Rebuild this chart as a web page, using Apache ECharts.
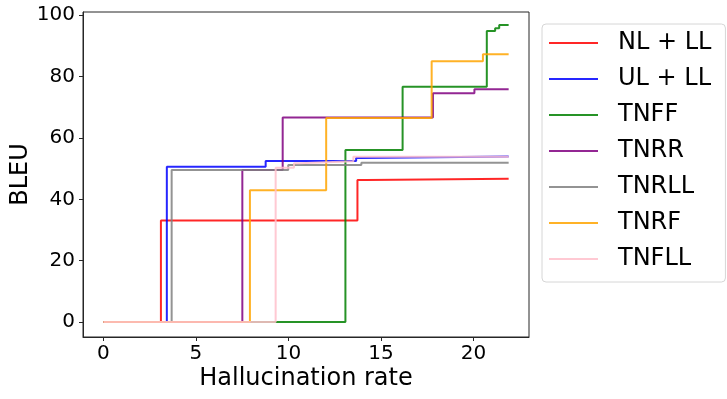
<!DOCTYPE html>
<html>
<head>
<meta charset="utf-8">
<script src="https://cdn.jsdelivr.net/npm/echarts@6/dist/echarts.min.js"></script>
<style>
  html, body { margin: 0; padding: 0; background: #fff; }
  #chart { width: 727px; height: 399px; }
</style>
</head>
<body>
<div id="chart"></div>
<script>
// step points: value holds from x onward
const nlLlX = [0, 3.11, 13.73, 14.25, 21.9];
const nlLlY = [0, 33.1, 46.3, 46.7, 46.7];

const ulLlX = [0, 3.43, 8.77, 13.66, 13.95, 21.9];
const ulLlY = [0, 50.6, 52.5, 53.5, 54.0, 54.0];

const tnffX = [0, 13.08, 16.17, 20.72, 21.17, 21.39, 21.9];
const tnffY = [0, 56.1, 76.7, 94.9, 95.8, 96.8, 96.8];

const tnrrX = [0, 7.51, 9.69, 17.81, 20.05, 21.9];
const tnrrY = [0, 49.6, 66.7, 74.6, 75.9, 75.9];

const tnrllX = [0, 3.69, 9.99, 13.94, 21.9];
const tnrllY = [0, 49.6, 51.2, 51.9, 51.9];

const tnrfX = [0, 7.92, 12.04, 17.74, 20.51, 21.9];
const tnrfY = [0, 43.0, 66.5, 85.0, 87.3, 87.3];

const tnfllX = [0, 9.31, 10.3, 10.6, 13.51, 21.9];
const tnfllY = [0, 50.3, 51.8, 52.4, 53.9, 53.9];

const seriesNames = ['NL + LL', 'UL + LL', 'TNFF', 'TNRR', 'TNRLL', 'TNRF', 'TNFLL'];
const seriesColors = ['#ff0000', '#0000ff', '#008000', '#800080', '#808080', '#ffa500', '#ffc0cb'];
const seriesX = [nlLlX, ulLlX, tnffX, tnrrX, tnrllX, tnrfX, tnfllX];
const seriesY = [nlLlY, ulLlY, tnffY, tnrrY, tnrllY, tnrfY, tnfllY];

const xTicks = [0, 5, 10, 15, 20];
const yTicks = [0, 20, 40, 60, 80, 100];

const font = 'DejaVu Sans';

const chart = echarts.init(document.getElementById('chart'), null, { renderer: 'canvas' });

const series = seriesNames.map((name, i) => ({
  name: name,
  type: 'line',
  step: 'end',
  showSymbol: false,
  symbol: 'none',
  data: seriesX[i].map((x, j) => [x, seriesY[i][j]]),
  lineStyle: { color: seriesColors[i], width: 2, opacity: 0.85 },
  itemStyle: { color: seriesColors[i], opacity: 0.85 }
}));

const option = {
  animation: false,
  backgroundColor: '#fff',
  textStyle: { fontFamily: font, color: '#000' },
  grid: {
    left: 83, right: 198, top: 12, bottom: 62,
    outerBoundsMode: 'none',
    containLabel: false,
    show: true, borderColor: '#262626', borderWidth: 1, backgroundColor: 'transparent'
  },
  legend: {
    orient: 'vertical',
    left: 542, top: 24,
    padding: [7, 14, 11, 7],
    borderColor: '#d6d6d6', borderWidth: 1, borderRadius: 4,
    backgroundColor: '#fff',
    icon: 'rect',
    itemWidth: 49, itemHeight: 2,
    itemGap: 12,
    data: seriesNames,
    textStyle: { fontFamily: font, fontSize: 24, lineHeight: 24, color: '#000', padding: [0, 0, 0, 15] }
  },
  xAxis: {
    type: 'value',
    min: -1.1, max: 23.0,
    name: 'Hallucination rate',
    nameLocation: 'middle',
    nameGap: 30,
    nameMoveOverlap: false,
    nameTextStyle: { fontFamily: font, fontSize: 24, color: '#000' },
    splitLine: { show: false },
    axisLine: { show: true, onZero: false, lineStyle: { color: '#262626', width: 1 } },
    axisTick: { show: true, length: 4, customValues: xTicks, lineStyle: { color: '#262626' } },
    axisLabel: { customValues: xTicks, fontFamily: font, fontSize: 20, color: '#000', margin: 7 }
  },
  yAxis: {
    type: 'value',
    min: -4.88, max: 101.07,
    name: 'BLEU',
    nameLocation: 'middle',
    nameGap: 50,
    nameMoveOverlap: false,
    nameTextStyle: { fontFamily: font, fontSize: 24, color: '#000' },
    splitLine: { show: false },
    axisLine: { show: true, onZero: false, lineStyle: { color: '#262626', width: 1 } },
    axisTick: { show: true, length: 4, customValues: yTicks, lineStyle: { color: '#262626' } },
    axisLabel: { customValues: yTicks, fontFamily: font, fontSize: 20, color: '#000', margin: 8 }
  },
  series: series
};

chart.setOption(option);
</script>
</body>
</html>
